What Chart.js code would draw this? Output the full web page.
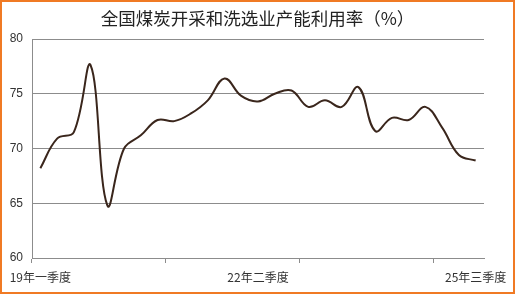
<!DOCTYPE html>
<html>
<head>
<meta charset="utf-8">
<script src="https://cdn.jsdelivr.net/npm/chart.js@4"></script>
<style>
  html, body { margin:0; padding:0; background:#fff; }
  #wrap { position:relative; width:515px; height:294px; }
  #frame { position:absolute; left:0; top:0; width:515px; height:294px; box-sizing:border-box;
           border:2px solid #f07a24; pointer-events:none; }
</style>
</head>
<body>
<div id="wrap">
  <canvas id="c" width="515" height="294"></canvas>
  <div id="frame"></div>
</div>
<script>
/* ── Data ───────────────────────────────────────── */
const quarters = [
  '19年一季度','19年二季度','19年三季度','19年四季度',
  '20年一季度','20年二季度','20年三季度','20年四季度',
  '21年一季度','21年二季度','21年三季度','21年四季度',
  '22年一季度','22年二季度','22年三季度','22年四季度',
  '23年一季度','23年二季度','23年三季度','23年四季度',
  '24年一季度','24年二季度','24年三季度','24年四季度',
  '25年一季度','25年二季度','25年三季度'
];
const utilRate = [
  68.2, 70.9, 71.5, 77.6, 64.8, 70.0, 71.2, 72.6,
  72.5, 73.2, 74.4, 76.4, 74.8, 74.3, 75.0, 75.3,
  73.8, 74.4, 73.8, 75.6, 71.6, 72.8, 72.6, 73.8,
  71.9, 69.4, 68.9
];
const shownLabels = ['19年一季度','22年二季度','25年三季度'];
const yTicks = [60, 65, 70, 75, 80];

const gridGray = '#8c8c8c';
const textDark = '#333333';

new Chart(document.getElementById('c'), {
  type: 'line',
  data: {
    labels: quarters,
    datasets: [{
      data: utilRate,
      borderColor: '#3a261c',
      borderWidth: 2,
      pointRadius: 0,
      tension: 0.4,
      fill: false
    }]
  },
  options: {
    responsive: false,
    animation: false,
    layout: { padding: 0 },
    plugins: {
      legend: { display: false },
      tooltip: { enabled: false },
      title: {
        display: true,
        text: '全国煤炭开采和洗选业产能利用率（%）',
        color: '#222',
        font: { family: '"Noto Sans CJK SC"', size: 17.5, weight: 'normal' },
        padding: { top: 8, bottom: 10 }
      }
    },
    scales: {
      x: {
        offset: true,
        border: { display: true, color: gridGray, width: 1 },
        grid: {
          offset: true,
          drawOnChartArea: false,
          drawTicks: true,
          tickLength: 5,
          color: ctx => (ctx.index % 8 === 0 && ctx.index < quarters.length) ? gridGray : 'rgba(0,0,0,0)'
        },
        ticks: {
          autoSkip: false,
          maxRotation: 0,
          padding: 7,
          color: textDark,
          font: { family: '"Noto Sans CJK SC"', size: 12 },
          callback: function(v) {
            const lab = this.getLabelForValue(v);
            return shownLabels.includes(lab) ? lab : '';
          }
        },
        afterFit: s => { s.height = 36; }
      },
      y: {
        min: 60,
        max: 80,
        border: { display: true, color: gridGray, width: 1 },
        grid: { color: gridGray, lineWidth: 1, drawTicks: false },
        afterBuildTicks: s => { s.ticks = yTicks.map(v => ({ value: v })); },
        ticks: {
          padding: 9,
          color: textDark,
          font: { family: '"Liberation Sans", Arial', size: 12 }
        },
        afterFit: s => { s.width = 32; }
      },
      /* empty right-hand spacer so the title stays centred on the whole card */
      yRight: {
        position: 'right',
        min: 60,
        max: 80,
        border: { display: false },
        grid: { display: false },
        ticks: { display: false },
        afterFit: s => { s.width = 31; }
      }
    }
  }
});
</script>
</body>
</html>
